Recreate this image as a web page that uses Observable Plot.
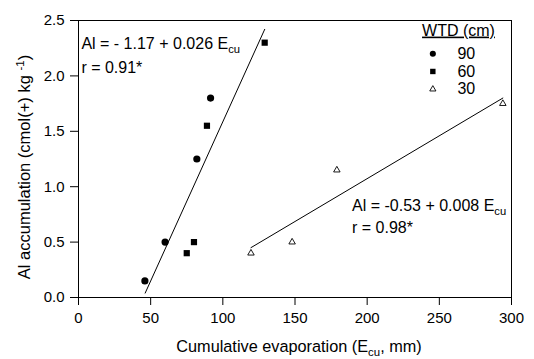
<!DOCTYPE html>
<html>
<head>
<meta charset="utf-8">
<script src="https://cdn.jsdelivr.net/npm/d3@7"></script>
<script src="https://cdn.jsdelivr.net/npm/@observablehq/plot@0.6"></script>
<style>
  html, body { margin: 0; padding: 0; background: white; }
  #chart { width: 534px; height: 359px; }
</style>
</head>
<body>
<div id="chart"></div>
<script>
// Data (E_cu in mm, Al in cmol(+) kg-1)
const wtd90X = [46, 60, 82, 91.5];
const wtd90Y = [0.15, 0.5, 1.25, 1.8];
const wtd60X = [75, 80, 89, 129];
const wtd60Y = [0.4, 0.5, 1.55, 2.3];
const wtd30X = [119.5, 148, 179, 294];
const wtd30Y = [0.4, 0.5, 1.15, 1.75];

// Regression lines as drawn
const fit1X = [46.2, 129];
const fit1Y = [0.04, 2.42];
const fit2X = [119.5, 294];
const fit2Y = [0.45, 1.8];

const xTicks = [0, 50, 100, 150, 200, 250, 300];
const yTicks = [0, 0.5, 1.0, 1.5, 2.0, 2.5];

// Legend (placed in data space, inside the upper-right corner)
const legendTitle = "WTD (cm)";
const legendTitleX = 288.5;
const legendTitleY = 2.41;
const legendLabels = ["90", "60", "30"];
const legendSymbols = ["circle", "square", "triangle2"];
const legendSymX = 245.5;
const legendLabelX = 262.5;
const legendRowY = [2.2, 2.04, 1.88];

const annoText = ["Al = - 1.17 + 0.026 E_cu", "r = 0.91*", "Al = -0.53 + 0.008 E_cu", "r = 0.98*"];
const annoX = [2, 2, 189.5, 189.5];
const annoY = [2.29, 2.075, 0.83, 0.63];

const xLabel = "Cumulative evaporation (E_cu, mm)";
const yLabel = "Al accumulation (cmol(+) kg ^-1)";

const pts = (xs, ys) => xs.map((x, i) => ({x, y: ys[i]}));

const font = "'Liberation Sans', Arial, Helvetica, sans-serif";

const plot = Plot.plot({
  width: 534,
  height: 359,
  marginLeft: 78,
  marginRight: 23,
  marginTop: 20,
  marginBottom: 62,
  style: {fontFamily: font, fontSize: "15px", background: "white", color: "black", overflow: "visible"},
  x: {domain: [0, 300]},
  y: {domain: [0, 2.5]},
  marks: [
    Plot.frame({stroke: "black", strokeWidth: 1}),
    Plot.axisX({ticks: xTicks, tickSize: 8, tickPadding: 7, fontSize: 15, label: null, tickFormat: d => String(d)}),
    Plot.axisY({ticks: yTicks, tickSize: 8, tickPadding: 6, fontSize: 15, label: null, tickFormat: d3.format(".1f")}),
    Plot.line(pts(fit1X, fit1Y), {x: "x", y: "y", stroke: "black", strokeWidth: 1}),
    Plot.line(pts(fit2X, fit2Y), {x: "x", y: "y", stroke: "black", strokeWidth: 1}),
    Plot.dot(pts(wtd90X, wtd90Y), {x: "x", y: "y", symbol: "circle", r: 3.6, fill: "black"}),
    Plot.dot(pts(wtd60X, wtd60Y), {x: "x", y: "y", symbol: "square", r: 3.5, fill: "black"}),
    Plot.dot(pts(wtd30X, wtd30Y), {x: "x", y: "y", symbol: "triangle2", r: 3.1, stroke: "black", fill: "white", strokeWidth: 0.9}),
    Plot.text(annoText, {x: (d, i) => annoX[i], y: (d, i) => annoY[i], text: d => d, textAnchor: "start", fontSize: 16, fill: "black"}),
    // legend
    Plot.text([legendTitle], {x: legendTitleX, y: legendTitleY, textAnchor: "end", fontSize: 16, fill: "black", text: d => d}),
    Plot.dot(legendSymbols, {x: legendSymX, y: (d, i) => legendRowY[i], symbol: d => d, r: (d, i) => [3.1, 3.1, 2.9][i], fill: (d, i) => i === 2 ? "white" : "black", stroke: (d, i) => i === 2 ? "black" : "none", strokeWidth: 0.9}),
    Plot.text(legendLabels, {x: legendLabelX, y: (d, i) => legendRowY[i], textAnchor: "start", fontSize: 16, fill: "black", text: d => d}),
    // axis labels
    Plot.text([xLabel], {frameAnchor: "bottom", dx: 4, dy: 54, textAnchor: "middle", fontSize: 16.3, fill: "black", text: d => d}),
    Plot.text([yLabel], {frameAnchor: "left", dx: -54, dy: 8, rotate: -90, textAnchor: "middle", fontSize: 16.5, fill: "black", text: d => d})
  ]
});

document.getElementById("chart").appendChild(plot);

const svg = d3.select(plot);
// underline legend title
svg.selectAll("text").each(function() {
  if (this.textContent === legendTitle) this.setAttribute("text-decoration", "underline");
});

// subscripts / superscripts
svg.selectAll("text").each(function() {
  const s = this.textContent;
  if (s.includes("_cu")) {
    const [a, b] = s.split("_cu");
    this.textContent = "";
    const t = d3.select(this);
    t.append("tspan").text(a);
    t.append("tspan").attr("dy", "4px").attr("font-size", "70%").text("cu");
    if (b) t.append("tspan").attr("dy", "-4px").text(b);
  } else if (s.includes("^-1")) {
    const [a, b] = s.split("^-1");
    this.textContent = "";
    const t = d3.select(this);
    t.append("tspan").text(a);
    t.append("tspan").attr("dy", "-6px").attr("font-size", "70%").text("-1");
    t.append("tspan").attr("dy", "6px").text(b);
  }
});
</script>
</body>
</html>
